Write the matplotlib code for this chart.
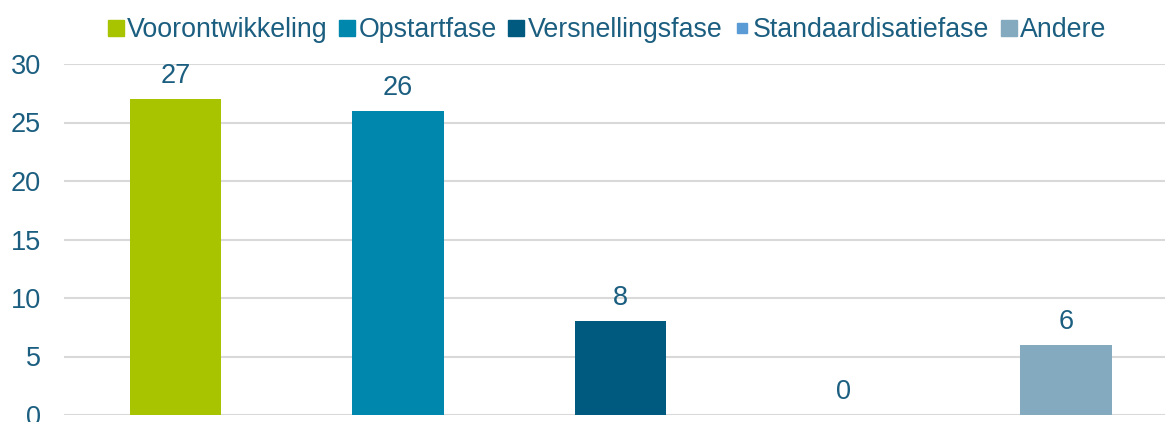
import matplotlib.pyplot as plt
from matplotlib.lines import Line2D

plt.rcParams['font.family'] = ['Liberation Sans', 'DejaVu Sans']

# Data
phases = ["Voorontwikkeling", "Opstartfase", "Versnellingsfase", "Standaardisatiefase", "Andere"]
counts = [27, 26, 8, 0, 6]
colors = ["#A8C300", "#0087AD", "#005A80", "#5B9BD5", "#84AABF"]
yticks = [0, 5, 10, 15, 20, 25, 30]

text_color = "#1B5E80"

fig = plt.figure(figsize=(11.65, 4.22), dpi=100)
ax = fig.add_axes([64 / 1165, 7 / 422, 1 - 64 / 1165, (415 - 64) / 422])

x = range(len(phases))
ax.bar(x, counts, width=0.41, color=colors, zorder=3)

for xi, v in zip(x, counts):
    ax.annotate(str(v), (xi, v), xytext=(0, 11.5), textcoords="offset points",
                ha="center", va="baseline", fontsize=19.5, color=text_color)

ax.set_ylim(0, 30)
ax.set_xlim(-0.5, 4.445)
ax.set_yticks(yticks)
ax.set_xticks([])
ax.grid(axis="y", color="#D9D9D9", linewidth=1.5, zorder=0)
for s in ax.spines.values():
    s.set_visible(False)
ax.tick_params(axis="y", length=0, pad=16.5, labelsize=19.5, labelcolor=text_color)

# legend with smaller key for the empty series
sizes = [12, 12, 12, 6.5, 12]
handles = [Line2D([], [], marker="s", linestyle="", markersize=sz, color=c)
           for c, sz in zip(colors, sizes)]
fig.legend(handles, phases, loc="center", bbox_to_anchor=(0.5206, 1 - 30 / 422), ncol=5,
           frameon=False, fontsize=19.3, labelcolor=text_color, handletextpad=0.08,
           columnspacing=0.37, handlelength=0.7, borderpad=0)

fig.savefig("out.png", dpi=100)
